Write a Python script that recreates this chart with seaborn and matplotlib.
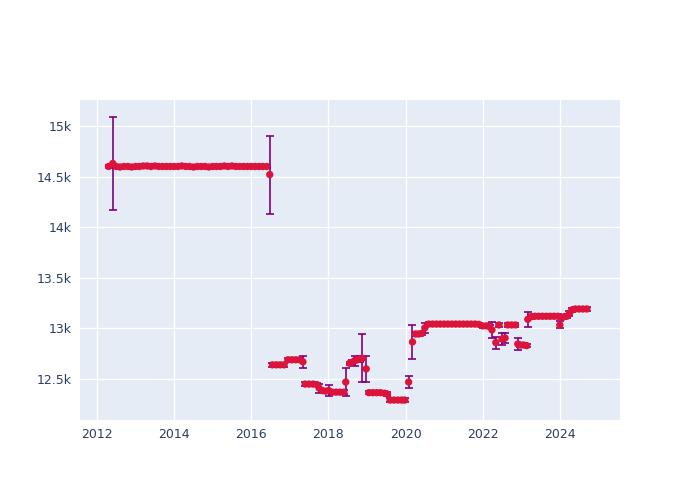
import matplotlib
matplotlib.use("Agg")
import matplotlib.pyplot as plt
import seaborn as sns
import pandas as pd

# decimal years
years = [
    2012.30, 2012.41, 2012.50, 2012.60, 2012.70, 2012.80, 2012.90, 2013.00, 2013.10, 2013.20,
    2013.30, 2013.40, 2013.50, 2013.60, 2013.70, 2013.80, 2013.90, 2014.00, 2014.10, 2014.20,
    2014.30, 2014.40, 2014.50, 2014.60, 2014.70, 2014.80, 2014.90, 2015.00, 2015.10, 2015.20,
    2015.30, 2015.40, 2015.50, 2015.60, 2015.70, 2015.80, 2015.90, 2016.00, 2016.10, 2016.20,
    2016.30, 2016.40, 2016.48,
    2016.55, 2016.65, 2016.75, 2016.85,
    2016.95, 2017.05, 2017.15, 2017.25, 2017.34,
    2017.40, 2017.50, 2017.60, 2017.70, 2017.76, 2017.85, 2017.93, 2018.01,
    2018.10, 2018.20, 2018.30, 2018.40, 2018.45,
    2018.55, 2018.62, 2018.68, 2018.75, 2018.82, 2018.88, 2018.98,
    2019.05, 2019.15, 2019.25, 2019.35, 2019.45, 2019.53,
    2019.60, 2019.70, 2019.80, 2019.90, 2019.98,
    2020.08, 2020.18,
    2020.26, 2020.34, 2020.42, 2020.50,
    2020.60, 2020.70, 2020.80, 2020.90, 2021.00, 2021.10, 2021.20, 2021.30, 2021.40, 2021.50,
    2021.60, 2021.70, 2021.80, 2021.90,
    2022.00, 2022.10, 2022.18, 2022.24, 2022.34, 2022.42, 2022.50, 2022.58,
    2022.65, 2022.75, 2022.85, 2022.91,
    2022.98, 2023.06, 2023.14, 2023.17,
    2023.25, 2023.35, 2023.45, 2023.55, 2023.65, 2023.75, 2023.85, 2023.95,
    2024.00, 2024.08, 2024.18, 2024.25, 2024.31,
    2024.40, 2024.50, 2024.60, 2024.70,
]

values = [
    14600, 14630, 14600, 14595, 14600, 14600, 14595, 14600, 14600, 14605,
    14605, 14600, 14605, 14600, 14600, 14600, 14600, 14600, 14600, 14605,
    14600, 14600, 14595, 14600, 14600, 14600, 14595, 14600, 14600, 14600,
    14605, 14600, 14605, 14600, 14600, 14600, 14600, 14600, 14600, 14600,
    14600, 14600, 14520,
    12640, 12640, 12640, 12640,
    12690, 12690, 12690, 12690, 12670,
    12450, 12450, 12450, 12445, 12410, 12385, 12380, 12386,
    12370, 12370, 12370, 12370, 12470,
    12655, 12665, 12680, 12690, 12695, 12705, 12600,
    12365, 12365, 12365, 12365, 12360, 12350,
    12292, 12292, 12292, 12292, 12292,
    12470, 12866,
    12945, 12945, 12950, 13005,
    13043, 13043, 13043, 13043, 13043, 13043, 13043, 13043, 13043, 13043,
    13043, 13043, 13043, 13040,
    13025, 13025, 13020, 12985, 12860, 13034, 12895, 12905,
    13034, 13034, 13034, 12846,
    12836, 12836, 12830, 13090,
    13115, 13120, 13120, 13120, 13120, 13120, 13120, 13120,
    13035, 13110, 13120, 13150, 13180,
    13192, 13192, 13192, 13192,
]

errors = [
    18, 455, 18, 18, 18, 18, 18, 18, 18, 18,
    18, 18, 18, 18, 18, 18, 18, 18, 18, 18,
    18, 18, 18, 18, 18, 18, 18, 18, 18, 18,
    18, 18, 18, 18, 18, 18, 18, 18, 18, 18,
    18, 18, 385,
    18, 18, 18, 18,
    18, 18, 18, 18, 60,
    18, 18, 18, 18, 45, 18, 18, 55,
    18, 18, 18, 18, 140,
    18, 18, 50, 18, 30, 237, 130,
    18, 18, 18, 18, 18, 18,
    18, 18, 18, 18, 18,
    55, 170,
    18, 18, 18, 50,
    18, 18, 18, 18, 18, 18, 18, 18, 18, 18,
    18, 18, 18, 18,
    18, 18, 18, 75, 60, 18, 55, 50,
    18, 18, 18, 60,
    18, 18, 18, 75,
    18, 18, 18, 18, 18, 18, 18, 18,
    35, 18, 18, 25, 18,
    18, 18, 18, 18,
]

x_ticks = [2012, 2014, 2016, 2018, 2020, 2022, 2024]
y_ticks = [12500, 13000, 13500, 14000, 14500, 15000]
y_tick_labels = ["12.5k", "13k", "13.5k", "14k", "14.5k", "15k"]

df = pd.DataFrame({"year": years, "value": values, "err": errors})

sns.set_theme(style="darkgrid")
plt.rcParams["font.family"] = ["DejaVu Sans"]

fig = plt.figure(figsize=(7, 5), dpi=100)
ax = fig.add_axes([80 / 700, 80 / 500, 540 / 700, 320 / 500])
ax.set_facecolor("#E5ECF6")

ax.errorbar(df["year"], df["value"], yerr=df["err"], fmt="none",
            ecolor="#800080", elinewidth=1.2, capsize=2.9, capthick=1.2, zorder=2)
sns.scatterplot(data=df, x="year", y="value", ax=ax, color="#DC143C",
                s=28, edgecolor="none", linewidth=0, zorder=3, legend=False)

ax.set_xlim(2011.56, 2025.56)
ax.set_ylim(12095, 15257)
ax.set_xticks(x_ticks)
ax.set_xticklabels([str(t) for t in x_ticks])
ax.set_yticks(y_ticks)
ax.set_yticklabels(y_tick_labels)
ax.grid(True, color="white", linewidth=1.0)
ax.set_axisbelow(True)
for s in ax.spines.values():
    s.set_visible(False)
ax.tick_params(axis="both", length=0, labelsize=9, colors="#2a3f5f", pad=6)
ax.set_xlabel("")
ax.set_ylabel("")

fig.savefig("out.png", dpi=100, facecolor="white")
